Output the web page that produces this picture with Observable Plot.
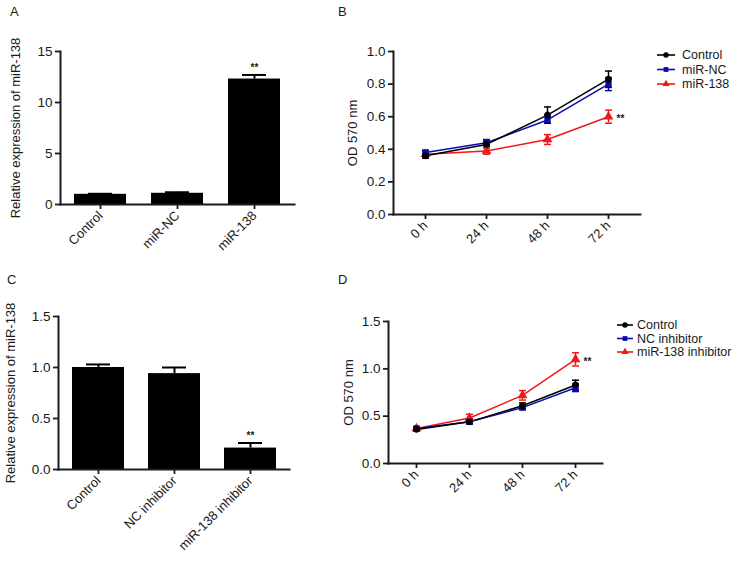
<!DOCTYPE html>
<html><head><meta charset="utf-8">
<script src="https://cdn.jsdelivr.net/npm/d3@7"></script>
<script src="https://cdn.jsdelivr.net/npm/@observablehq/plot@0.6"></script>
<style>
body{margin:0;background:#fff;}
#fig{position:relative;width:743px;height:563px;font-family:"Liberation Sans",Arial,Helvetica,sans-serif;color:#1a1a1a;overflow:hidden;}
.panel{position:absolute;}
.plab{position:absolute;font-size:13px;line-height:13px;}
.legend{position:absolute;}
</style></head><body><div id="fig"></div><script>
// ---------- Data ----------
// Panel A
const groupsA = ["Control", "miR-NC", "miR-138"];
const meanA = [1.0, 1.1, 12.3];
const errA = [0.05, 0.1, 0.4];
const sigA = ["", "", "**"];
const ticksA = [0, 5, 10, 15];
// Panel C
const groupsC = ["Control", "NC inhibitor", "miR-138 inhibitor"];
const meanC = [1.0, 0.94, 0.21];
const errC = [0.03, 0.06, 0.05];
const sigC = ["", "", "**"];
const ticksC = [0, 0.5, 1.0, 1.5];
// Time points
const timeLabels = ["0 h", "24 h", "48 h", "72 h"];
// Panel B
const seriesB = ["Control", "miR-NC", "miR-138"];
const bControl = [0.36, 0.43, 0.61, 0.83];
const bControlErr = [0.015, 0.02, 0.05, 0.05];
const bNC = [0.38, 0.44, 0.58, 0.80];
const bNCErr = [0.015, 0.02, 0.02, 0.04];
const b138 = [0.37, 0.39, 0.46, 0.60];
const b138Err = [0.015, 0.02, 0.03, 0.04];
const sigB = ["", "", "**"];
const ticksB = [0, 0.2, 0.4, 0.6, 0.8, 1.0];
// Panel D
const seriesD = ["Control", "NC inhibitor", "miR-138 inhibitor"];
const dControl = [0.36, 0.44, 0.61, 0.83];
const dControlErr = [0.015, 0.02, 0.03, 0.05];
const dNC = [0.37, 0.44, 0.59, 0.80];
const dNCErr = [0.015, 0.02, 0.02, 0.04];
const d138 = [0.37, 0.48, 0.72, 1.10];
const d138Err = [0.015, 0.04, 0.05, 0.07];
const sigD = ["", "", "**"];
const ticksD = [0, 0.5, 1.0, 1.5];

const seriesColors = ["#000000", "#0a0ab0", "#f01818"];
const seriesSymbols = ["circle", "square", "triangle"];

// ---------- Helpers ----------
const FONT = "Liberation Sans, Arial, Helvetica, sans-serif";
const INK = "#1a1a1a";
const FS_YT = 13.5;   // y tick labels
const FS_XT = 13;     // x tick labels
const FS_LAB = 13;    // axis titles
const FS_LEG = 12.5;  // legend
const fig = document.getElementById("fig");

function place(node, left, top) {
  const d = document.createElement("div");
  d.className = "panel";
  d.style.left = left + "px";
  d.style.top = top + "px";
  d.appendChild(node);
  fig.appendChild(d);
}
function letter(t, left, top) {
  const d = document.createElement("div");
  d.className = "plab";
  d.style.left = left + "px";
  d.style.top = top + "px";
  d.textContent = t;
  fig.appendChild(d);
}

const capSymbol = {
  draw(context, size) {
    const r = Math.sqrt(size / Math.PI);
    context.moveTo(-r, 0);
    context.lineTo(r, 0);
  }
};

function axes(c, yFormat, yLabel) {
  return [
    Plot.axisY({ticks: c.yTicks, tickFormat: yFormat, tickSize: 5, tickPadding: 3, strokeWidth: 1.8, fontSize: FS_YT, label: null}),
    Plot.axisY({ticks: [], tickSize: 0, fontSize: FS_LAB,
      label: yLabel, labelAnchor: "center", labelArrow: "none", labelOffset: c.labelOffset}),
    Plot.axisX({tickRotate: -45, tickSize: 5, tickPadding: 4, strokeWidth: 1.8, fontSize: FS_XT, label: null}),
    Plot.frame({anchor: "left", strokeWidth: 2, stroke: INK}),
    Plot.frame({anchor: "bottom", strokeWidth: 2, stroke: INK})
  ];
}

function barPanel(c) {
  const rows = c.groups.map((g, i) => ({g, v: c.means[i], e: c.errs[i], s: c.sig[i]}));
  return Plot.plot({
    width: c.width, height: c.height,
    marginLeft: c.ml, marginRight: c.mr, marginTop: c.mt, marginBottom: c.mb,
    style: {fontFamily: FONT, fontSize: FS_XT + "px", color: INK, background: "transparent", overflow: "visible"},
    x: {domain: c.groups, paddingInner: 0.32, paddingOuter: 0.17},
    y: {domain: c.yDomain},
    marks: [
      Plot.barY(rows, {x: "g", y: "v", fill: "#000"}),
      Plot.ruleX(rows, {x: "g", y1: "v", y2: d => d.v + d.e, stroke: "#000", strokeWidth: 2}),
      Plot.tickY(rows, {x: "g", y: d => d.v + d.e, stroke: "#000", strokeWidth: 2, insetLeft: 14, insetRight: 14}),
      Plot.text(rows.filter(d => d.s), {x: "g", y: d => d.v + d.e, text: "s", dy: -7, fontSize: 10, fontWeight: "bold", fill: INK}),
      ...axes(c, c.yFormat, c.yLabel)
    ]
  });
}

function linePanel(c) {
  const rows = [];
  // draw last series first so "Control" ends on top
  for (let s = c.series.length - 1; s >= 0; s--) {
    timeLabels.forEach((t, j) => rows.push({series: c.series[s], time: t, y: c.values[s][j], e: c.errs[s][j],
      sig: j === timeLabels.length - 1 ? c.sig[s] : ""}));
  }
  return Plot.plot({
    width: c.width, height: c.height,
    marginLeft: c.ml, marginRight: c.mr, marginTop: c.mt, marginBottom: c.mb,
    style: {fontFamily: FONT, fontSize: FS_XT + "px", color: INK, background: "transparent", overflow: "visible"},
    x: {type: "point", domain: timeLabels, padding: 0.5},
    y: {domain: c.yDomain},
    color: {domain: c.series, range: seriesColors},
    symbol: {domain: c.series, range: seriesSymbols},
    marks: [
      Plot.line(rows, {x: "time", y: "y", z: "series", stroke: "series", strokeWidth: 1.5}),
      Plot.ruleX(rows, {x: "time", y1: d => d.y - d.e, y2: d => d.y + d.e, stroke: "series", strokeWidth: 1.5}),
      Plot.dot(rows, {x: "time", y: d => d.y - d.e, symbol: capSymbol, r: 3.5, stroke: "series", strokeWidth: 1.5}),
      Plot.dot(rows, {x: "time", y: d => d.y + d.e, symbol: capSymbol, r: 3.5, stroke: "series", strokeWidth: 1.5}),
      Plot.dot(rows, {x: "time", y: "y", symbol: "series", fill: "series", stroke: "series", r: 2.7}),
      Plot.text(rows.filter(d => d.sig), {x: "time", y: "y", text: "sig", dx: 8, dy: 2, textAnchor: "start", fontSize: 10, fontWeight: "bold", fill: INK}),
      ...axes(c, d3.format(".1f"), "OD 570 nm")
    ]
  });
}

function legend(series, left, top, lineLen, gap, rowH) {
  const w = lineLen + gap + 130, h = rowH * series.length + 4;
  const svg = d3.create("svg").attr("width", w).attr("height", h)
    .style("font-family", FONT).style("font-size", FS_LEG + "px").style("overflow", "visible");
  const symbols = {circle: d3.symbolCircle, square: d3.symbolSquare, triangle: d3.symbolTriangle};
  series.forEach((s, i) => {
    const y = 6 + i * rowH;
    const g = svg.append("g").attr("transform", `translate(0,${y})`);
    g.append("line").attr("x1", 0).attr("x2", lineLen).attr("y1", 0).attr("y2", 0)
      .attr("stroke", seriesColors[i]).attr("stroke-width", 1.6);
    g.append("path").attr("transform", `translate(${lineLen / 2},0)`)
      .attr("d", d3.symbol(symbols[seriesSymbols[i]], 2.7 * 2.7 * Math.PI)())
      .attr("fill", seriesColors[i]);
    g.append("text").attr("x", lineLen + gap).attr("y", 0).attr("dy", "0.35em")
      .attr("fill", INK).text(s);
  });
  const d = document.createElement("div");
  d.className = "legend";
  d.style.left = left + "px";
  d.style.top = top + "px";
  d.appendChild(svg.node());
  fig.appendChild(d);
}

// ---------- Panels ----------
place(barPanel({groups: groupsA, means: meanA, errs: errA, sig: sigA, yDomain: [0, 15], yTicks: ticksA,
  yFormat: d3.format("d"), yLabel: "Relative expression of miR-138", labelOffset: 50,
  width: 300, height: 280, ml: 60, mr: 6, mt: 51, mb: 76}), 0, 0);

place(linePanel({series: seriesB, values: [bControl, bNC, b138], errs: [bControlErr, bNCErr, b138Err], sig: sigB,
  yDomain: [0, 1], yTicks: ticksB, labelOffset: 46,
  width: 443, height: 280, ml: 93, mr: 103, mt: 51, mb: 66}), 300, 0);

place(barPanel({groups: groupsC, means: meanC, errs: errC, sig: sigC, yDomain: [0, 1.5], yTicks: ticksC,
  yFormat: d3.format(".1f"), yLabel: "Relative expression of miR-138", labelOffset: 53,
  width: 300, height: 283, ml: 58, mr: 11, mt: 36, mb: 94}), 0, 280);

place(linePanel({series: seriesD, values: [dControl, dNC, d138], errs: [dControlErr, dNCErr, d138Err], sig: sigD,
  yDomain: [0, 1.5], yTicks: ticksD, labelOffset: 45,
  width: 443, height: 283, ml: 88, mr: 141, mt: 41, mb: 100}), 300, 280);

legend(seriesB, 657, 49, 18, 7, 14.5);
legend(seriesD, 617, 319, 16, 4, 13.5);

letter("A", 10, 5);
letter("B", 338, 5);
letter("C", 7, 273);
letter("D", 338, 273);
</script></body></html>
